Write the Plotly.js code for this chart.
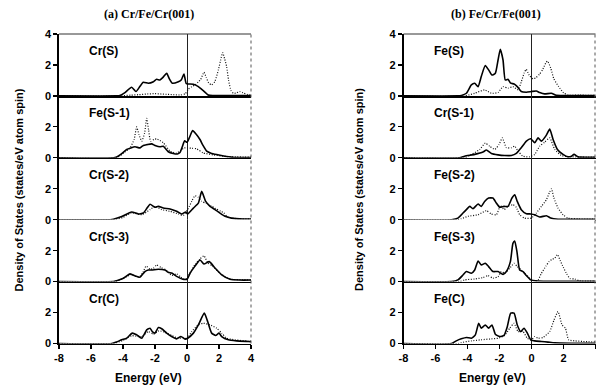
<!DOCTYPE html>
<html><head><meta charset="utf-8">
<script src="https://cdn.plot.ly/plotly-3.0.1.min.js"></script>
<style>html,body{margin:0;padding:0;background:#fff}#chart{width:596px;height:392px}</style>
</head><body><div id="chart"></div>
<script>
// ---------- (a) Cr/Fe/Cr(001) ----------
const aCrS_upE = [-8,-4.4,-4.2,-3.9,-3.46,-3.19,-2.95,-2.73,-2.42,-2.1,-1.9,-1.69,-1.5,-1.27,-1.1,-0.92,-0.54,-0.35,-0.19,-0.05,0.1,0.4,0.71,1.02,1.33,1.6,2.5,4];
const aCrS_up  = [0,0,0.02,0.2,0.56,0.28,0.6,0.88,0.82,0.92,1.07,1.03,1.2,1.46,1.1,0.82,0.92,1.05,1.42,0.8,0.77,0.75,0.6,0.34,0.06,0.02,0.02,0.02];
const aCrS_dnE = [-8,-4.2,-3.5,-3,-2.5,-2,-1.6,-1.2,-0.8,-0.4,-0.1,0.08,0.3,0.5,0.7,0.85,1.06,1.2,1.35,1.54,1.75,1.96,2.1,2.23,2.35,2.48,2.6,2.75,2.9,3.1,3.3,3.5,3.8,4];
const aCrS_dn  = [0,0,0.05,0.08,0.12,0.15,0.12,0.1,0.08,0.06,0.15,0.43,0.6,0.71,0.9,1.05,1.53,1.2,0.85,0.71,0.95,1.68,2.3,2.8,2.4,1.89,1.0,0.35,0.17,0.2,0.28,0.2,0.08,0.05];

const aFeS1_upE = [-8,-4.6,-4.4,-4.1,-3.77,-3.25,-2.94,-2.73,-2.5,-2.21,-2.0,-1.69,-1.48,-1.17,-0.86,-0.6,-0.44,-0.3,-0.15,0,0.15,0.35,0.55,0.81,1.0,1.23,1.5,1.86,2.48,3,4];
const aFeS1_up  = [0,0,0.05,0.25,0.54,0.71,0.64,0.8,0.85,0.9,0.8,0.71,0.75,0.39,0.28,0.25,0.34,0.7,1.1,1.0,1.3,1.76,1.55,1.18,0.8,0.43,0.3,0.21,0.08,0.02,0.02];
const aFeS1_dnE = [-8,-4.4,-3.98,-3.56,-3.3,-3.15,-3.0,-2.83,-2.65,-2.52,-2.4,-2.27,-2.05,-1.89,-1.48,-1.06,-0.65,-0.17,0,0.3,0.6,1.0,1.64,2.5,4];
const aFeS1_dn  = [0,0,0.3,0.64,1.2,2.0,1.5,1.07,1.6,2.55,1.8,1.07,1.2,1.22,0.97,0.43,0.3,0.64,0.64,0.62,0.58,0.32,0.19,0.08,0.04];

const aCrS2_upE = [-8,-4.8,-4.6,-4.08,-3.46,-3.04,-2.73,-2.5,-2.31,-2.0,-1.79,-1.48,-1.06,-0.65,-0.33,-0.08,0.04,0.4,0.71,0.92,1.17,1.44,1.75,2.06,2.38,2.79,3.5,4];
const aCrS2_up  = [0,0,0.03,0.2,0.5,0.37,0.43,0.75,1.0,0.8,0.86,0.75,0.69,0.54,0.37,0.5,0.37,0.75,1.07,1.83,1.18,0.86,0.65,0.43,0.22,0.1,0.05,0.05];
const aCrS2_dnE = [-8,-4.6,-4.0,-3.46,-2.83,-2.31,-2.0,-1.58,-1.06,-0.54,-0.23,0.04,0.3,0.5,0.7,0.9,1.2,1.5,1.8,2.1,2.3,2.5,3,4];
const aCrS2_dn  = [0,0,0.15,0.45,0.32,0.65,0.86,0.65,0.54,0.37,0.28,0.65,1.2,1.55,1.45,1.2,1.05,0.9,0.72,0.55,0.45,0.2,0.08,0.05];

const aCrS3_upE = [-8,-4.6,-4.4,-3.98,-3.56,-3.2,-2.94,-2.63,-2.42,-2.21,-1.79,-1.38,-1.17,-0.96,-0.65,-0.27,0.02,0.19,0.5,0.81,1.06,1.39,1.75,2.17,2.69,3.3,4];
const aCrS3_up  = [0,0,0.06,0.22,0.5,0.35,0.28,0.65,0.75,0.75,0.8,0.75,0.6,0.55,0.34,0.16,0.17,0.54,1.0,1.4,1.14,1.29,0.88,0.43,0.15,0.1,0.1];
const aCrS3_dnE = [-8,-4.5,-4.0,-3.5,-3.0,-2.75,-2.56,-2.3,-2.1,-1.9,-1.6,-1.3,-0.95,-0.65,-0.4,-0.2,0,0.2,0.5,0.8,1.06,1.3,1.6,2.0,2.4,2.8,3.5,4];
const aCrS3_dn  = [0,0,0.2,0.45,0.28,0.6,1.0,0.8,0.85,1.07,0.9,0.75,0.4,0.5,0.3,0.15,0.2,0.6,1.1,1.45,1.67,1.2,1.0,0.6,0.3,0.15,0.12,0.1];

const aCrC_upE = [-8,-4.7,-4.4,-4.08,-3.77,-3.42,-3.15,-2.83,-2.52,-2.31,-2.17,-2.0,-1.79,-1.58,-1.27,-0.96,-0.65,-0.38,-0.12,0.04,0.4,0.71,1.08,1.29,1.54,1.79,2.0,2.17,2.58,3.1,3.83,4];
const aCrC_up  = [0,0,0.1,0.24,0.34,0.67,0.56,0.34,0.88,0.99,0.77,0.67,1.03,0.95,0.67,0.45,0.3,0.45,0.28,0.34,0.67,1.2,1.96,1.42,0.67,0.52,0.67,0.45,0.24,0.17,0.13,0.12];
const aCrC_dnE = [-8,-4.6,-4.0,-3.46,-2.83,-2.42,-2.1,-1.75,-1.38,-0.96,-0.54,-0.25,0,0.29,0.71,1.02,1.44,1.85,2.17,2.48,3.0,3.8,4];
const aCrC_dn  = [0,0,0.2,0.5,0.45,0.77,0.6,0.82,0.73,0.52,0.34,0.39,0.3,0.77,1.2,1.31,1.2,0.99,0.67,0.34,0.24,0.15,0.14];

// ---------- (b) Fe/Cr/Fe(001) ----------
const bFeS_upE = [-8,-4.6,-4.38,-4.07,-3.76,-3.55,-3.34,-3.14,-2.89,-2.68,-2.47,-2.26,-2.09,-1.95,-1.78,-1.64,-1.47,-1.3,-1.09,-0.89,-0.64,-0.32,-0.01,0.3,0.51,0.82,1.24,1.55,2.5,4];
const bFeS_up  = [0,0,0.03,0.17,0.71,0.82,0.6,1.25,1.96,1.68,1.35,1.46,2.32,3.01,2.32,1.03,1.07,0.82,0.77,0.6,0.28,0.24,0.28,0.32,0.22,0.13,0.17,0.04,0.02,0.02];
const bFeS_dnE = [-8,-4.2,-3.55,-2.93,-2.51,-2.09,-1.78,-1.47,-1.16,-0.84,-0.64,-0.45,-0.33,-0.15,0.1,0.3,0.5,0.7,0.9,1.0,1.2,1.4,1.7,2.0,2.3,3,4];
const bFeS_dn  = [0,0,0.17,0.39,0.17,0.22,0.6,0.5,0.6,0.4,0.9,1.5,1.72,1.35,1.1,1.2,1.4,1.7,2.15,2.25,1.8,1.1,0.6,0.2,0.05,0.05,0.03];

const bCrS1_upE = [-8,-4.5,-4.18,-3.55,-3.03,-2.82,-2.51,-2.09,-1.68,-1.26,-0.95,-0.64,-0.32,-0.05,0.2,0.41,0.62,0.89,1.14,1.35,1.62,1.97,2.28,2.5,2.66,2.91,3.5,4];
const bCrS1_up  = [0,0,0.1,0.22,0.37,0.5,0.28,0.19,0.15,0.15,0.28,0.65,1.08,1.23,0.97,1.29,1.08,1.4,1.85,1.18,0.54,0.22,0.06,0.1,0.22,0.06,0.03,0.03];
const bCrS1_dnE = [-8,-4.2,-3.86,-3.24,-2.89,-2.62,-2.3,-2.03,-1.82,-1.57,-1.26,-1.05,-0.84,-0.53,-0.11,0.2,0.51,0.82,1.14,1.45,1.86,2.5,4];
const bCrS1_dn  = [0,0,0.15,0.54,0.95,0.75,0.54,0.86,1.29,0.65,0.65,0.75,0.43,0.1,0.06,0.22,0.75,1.01,1.29,0.54,0.15,0.06,0.04];

const bFeS2_upE = [-8,-5.0,-4.6,-4.28,-4.07,-3.86,-3.66,-3.34,-3.14,-2.93,-2.68,-2.41,-2.2,-1.99,-1.72,-1.47,-1.22,-1.05,-0.89,-0.64,-0.32,-0.05,0.2,0.51,0.93,1.2,1.66,2.5,4];
const bFeS2_up  = [0,0,0.1,0.43,0.65,0.86,0.71,1.01,0.86,1.18,1.4,1.4,1.08,0.8,0.86,0.86,1.4,1.61,1.18,0.65,0.39,0.37,0.32,0.17,0.26,0.11,0.03,0.02,0.02];
const bFeS2_dnE = [-8,-4.6,-4.39,-3.97,-3.34,-2.82,-2.51,-2.2,-1.93,-1.72,-1.47,-1.16,-0.95,-0.74,-0.43,-0.01,0.3,0.62,0.93,1.14,1.25,1.4,1.66,1.97,2.28,3,4];
const bFeS2_dn  = [0,0,0.06,0.22,0.32,0.58,0.37,0.32,0.92,0.65,0.86,0.97,0.8,0.32,0.1,0.1,0.43,0.86,1.29,1.8,2.0,1.4,0.75,0.32,0.1,0.05,0.04];

const bFeS3_upE = [-8,-5.0,-4.6,-4.28,-4.07,-3.76,-3.55,-3.34,-3.14,-2.89,-2.68,-2.41,-2.09,-1.78,-1.57,-1.32,-1.16,-1.05,-0.91,-0.74,-0.53,-0.32,-0.05,0.41,1.5,4];
const bFeS3_up  = [0,0,0.11,0.43,0.65,0.54,0.75,1.33,1.08,1.18,0.97,0.65,0.65,0.47,0.65,1.29,2.47,2.62,1.94,0.75,0.65,0.39,0.11,0.04,0.02,0.02];
const bFeS3_dnE = [-8,-4.5,-4.18,-3.55,-3.03,-2.72,-2.41,-2.09,-1.89,-1.68,-1.36,-1.09,-0.89,-0.64,-0.43,-0.11,0.2,0.41,0.6,0.9,1.1,1.3,1.45,1.62,1.8,2.0,2.2,2.4,2.7,3.0,4];
const bFeS3_dn  = [0,0,0.11,0.17,0.26,0.39,0.22,0.32,0.65,0.54,0.86,1.18,0.97,0.75,0.54,0.22,0.04,0.1,0.5,1.0,1.3,1.45,1.5,1.75,1.35,0.9,0.5,0.2,0.17,0.05,0.03];

const bFeC_upE = [-8,-5.0,-4.7,-4.39,-4.07,-3.76,-3.51,-3.3,-3.14,-2.89,-2.68,-2.47,-2.26,-1.99,-1.72,-1.51,-1.3,-1.09,-0.89,-0.68,-0.47,-0.26,-0.05,0.2,0.62,1.03,1.45,2.5,4];
const bFeC_up  = [0,0,0.17,0.3,0.39,0.34,0.56,1.31,0.99,1.2,0.99,1.2,0.6,0.45,0.52,1.1,1.96,1.96,1.2,0.77,0.99,0.67,0.24,0.17,0.13,0.09,0.04,0.02,0.02];
const bFeC_dnE = [-8,-4.6,-4.39,-3.76,-3.14,-2.51,-2.09,-1.68,-1.36,-1.09,-0.84,-0.53,-0.26,0,0.2,0.41,0.72,1.14,1.41,1.66,1.91,2.12,2.32,2.7,3.22,4];
const bFeC_dn  = [0,0,0.06,0.17,0.24,0.3,0.34,0.52,0.99,1.31,0.77,0.77,0.34,0.24,0.45,0.34,0.39,0.77,1.53,2.06,1.2,0.99,0.24,0.17,0.13,0.1];

// ---------- text ----------
const panelLabelsA = ['Cr(S)','Fe(S-1)','Cr(S-2)','Cr(S-3)','Cr(C)'];
const panelLabelsB = ['Fe(S)','Cr(S-1)','Fe(S-2)','Fe(S-3)','Fe(C)'];
const columnTitles = ['(a) Cr/Fe/Cr(001)','(b) Fe/Cr/Fe(001)'];
const xTickVals = [-8,-6,-4,-2,0,2,4];
const xTickText = ['-8','-6','-4','-2','0','2','4'];
const yTickValsTop = [0,2,4];
const yTickValsRest = [0,2];
const xTitleText = 'Energy (eV)';
const yTitleText = 'Density of States (states/eV atom spin)';

const columns = [
  {labels: panelLabelsA, series: [
    [aCrS_upE,aCrS_up,aCrS_dnE,aCrS_dn],
    [aFeS1_upE,aFeS1_up,aFeS1_dnE,aFeS1_dn],
    [aCrS2_upE,aCrS2_up,aCrS2_dnE,aCrS2_dn],
    [aCrS3_upE,aCrS3_up,aCrS3_dnE,aCrS3_dn],
    [aCrC_upE,aCrC_up,aCrC_dnE,aCrC_dn]]},
  {labels: panelLabelsB, series: [
    [bFeS_upE,bFeS_up,bFeS_dnE,bFeS_dn],
    [bCrS1_upE,bCrS1_up,bCrS1_dnE,bCrS1_dn],
    [bFeS2_upE,bFeS2_up,bFeS2_dnE,bFeS2_dn],
    [bFeS3_upE,bFeS3_up,bFeS3_dnE,bFeS3_dn],
    [bFeC_upE,bFeC_up,bFeC_dnE,bFeC_dn]]}
];

const W = 596, H = 392;
const colPx = [[59, 251], [403.5, 595.5]];
const topPx = 34, panelH = 61.9;
const sans = 'Liberation Sans, Arial, sans-serif';
const tickFont = {family: sans, size: 11, color: '#000', weight: 'bold'};

const data = [];
const layout = {
  width: W, height: H, margin: {l:0, r:0, t:0, b:0},
  paper_bgcolor: '#fff', plot_bgcolor: '#fff', showlegend: false,
  annotations: [], shapes: []
};

columns.forEach((col, c) => {
  const xd = [colPx[c][0]/W, colPx[c][1]/W];
  col.series.forEach((s, i) => {
    const n = c*5 + i + 1;
    const xs = n === 1 ? 'x' : 'x' + n;
    const ys = n === 1 ? 'y' : 'y' + n;
    const t = topPx + panelH*i, b = t + panelH;
    const yd = [1 - b/H, 1 - t/H];
    const bottom = i === 4;
    layout[n === 1 ? 'xaxis' : 'xaxis' + n] = {
      domain: xd, anchor: ys, range: [-8, 4], showgrid: false,
      zeroline: true, zerolinecolor: '#222', zerolinewidth: 1,
      showline: true, linecolor: '#000', linewidth: 1.6,
      ticks: bottom ? 'outside' : '', ticklen: 4, tickwidth: 1.2, tickcolor: '#000',
      showticklabels: bottom, tickmode: 'array', tickvals: xTickVals, ticktext: xTickText,
      tickfont: tickFont, fixedrange: true
    };
    layout[n === 1 ? 'yaxis' : 'yaxis' + n] = {
      domain: yd, anchor: xs, range: [0, 4], showgrid: false, zeroline: false,
      showline: true, linecolor: '#000', linewidth: 1.6,
      ticks: 'outside', ticklen: 4, tickwidth: 1.2, tickcolor: '#000',
      tickmode: 'array', tickvals: i === 0 ? yTickValsTop : yTickValsRest,
      tickfont: tickFont, fixedrange: true
    };
    data.push({x: s[2], y: s[3], xaxis: xs, yaxis: ys, mode: 'lines', hoverinfo: 'skip',
      line: {color: '#111', width: 1.2, dash: '1px,1.6px', shape: 'spline', smoothing: 0.5}});
    data.push({x: s[0], y: s[1], xaxis: xs, yaxis: ys, mode: 'lines', hoverinfo: 'skip',
      line: {color: '#000', width: 1.6, shape: 'spline', smoothing: 0.5}});
    layout.annotations.push({xref: xs, yref: ys, x: -6.25, y: 2.9, xanchor: 'left', yanchor: 'middle',
      text: col.labels[i], showarrow: false, font: {family: sans, size: 12, color: '#000', weight: 'bold'}});
  });
  // frame: top line and dotted right border
  layout.shapes.push({type: 'line', xref: 'paper', yref: 'paper', x0: xd[0], x1: xd[1],
    y0: 1 - topPx/H, y1: 1 - topPx/H, line: {color: '#333', width: 1}});
  layout.shapes.push({type: 'line', xref: 'paper', yref: 'paper', x0: Math.min(xd[1], 595/W), x1: Math.min(xd[1], 595/W),
    y0: 1 - (topPx + panelH*5)/H, y1: 1 - topPx/H, line: {color: '#555', width: 1, dash: 'dot'}});
  // titles
  const cx = [149, 496][c];
  layout.annotations.push({xref: 'paper', yref: 'paper', x: cx/W, y: 1 - 14/H, xanchor: 'center', yanchor: 'middle',
    text: columnTitles[c], showarrow: false, font: {family: 'Liberation Serif, Times New Roman, serif', size: 12, color: '#000', weight: 'bold'}});
  layout.annotations.push({xref: 'paper', yref: 'paper', x: [148.5, 492.5][c]/W, y: 1 - 378/H, xanchor: 'center', yanchor: 'middle',
    text: xTitleText, showarrow: false, font: {family: sans, size: 12, color: '#000', weight: 'bold'}});
  layout.annotations.push({xref: 'paper', yref: 'paper', x: [18.5, 359][c]/W, y: 1 - 190/H, xanchor: 'center', yanchor: 'middle',
    textangle: -90, text: yTitleText, showarrow: false, font: {family: sans, size: 11, color: '#000', weight: 'bold'}});
});

Plotly.newPlot('chart', data, layout, {staticPlot: true, displayModeBar: false});
</script>
</body></html>
